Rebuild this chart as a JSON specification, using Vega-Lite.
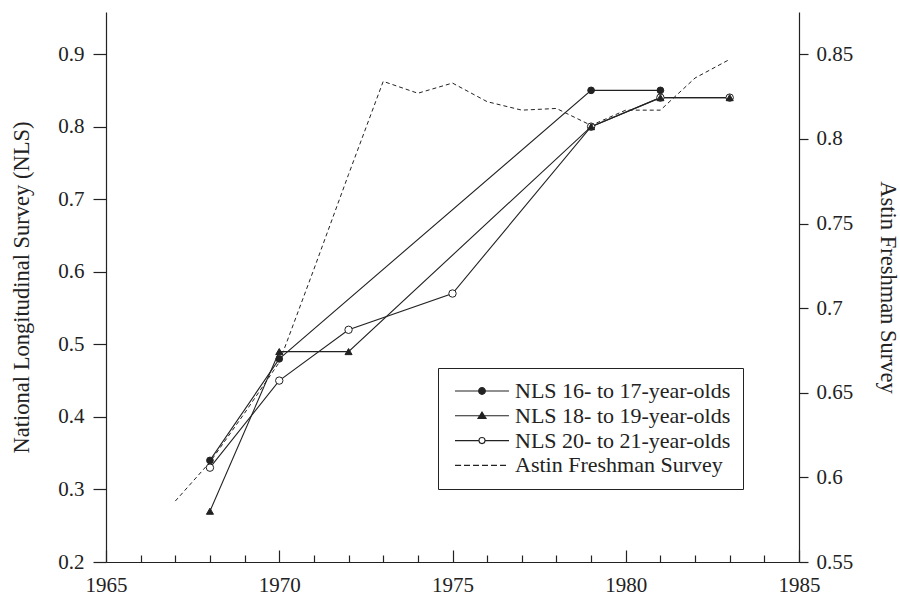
{
  "$schema": "https://vega.github.io/schema/vega-lite/v6.json",
  "width": 693,
  "height": 550,
  "autosize": {"type": "none"},
  "padding": {"left": 106, "top": 12, "right": 101, "bottom": 33},
  "background": "white",
  "config": {
    "view": {"stroke": null},
    "font": "Liberation Serif",
    "axis": {
      "grid": false,
      "domainColor": "#222",
      "tickColor": "#222",
      "labelColor": "#222",
      "titleColor": "#222",
      "labelFont": "Liberation Serif",
      "titleFont": "Liberation Serif",
      "labelFontSize": 21,
      "titleFontSize": 22.5,
      "titleFontWeight": "normal",
      "domainWidth": 1.2,
      "tickWidth": 1.2,
      "format": "~g"
    }
  },
  "datasets": {
    "nls": [
      {"series": "NLS 20- to 21-year-olds", "year": 1968, "value": 0.33},
      {"series": "NLS 20- to 21-year-olds", "year": 1970, "value": 0.45},
      {"series": "NLS 20- to 21-year-olds", "year": 1972, "value": 0.52},
      {"series": "NLS 20- to 21-year-olds", "year": 1975, "value": 0.57},
      {"series": "NLS 20- to 21-year-olds", "year": 1979, "value": 0.80},
      {"series": "NLS 20- to 21-year-olds", "year": 1981, "value": 0.84},
      {"series": "NLS 20- to 21-year-olds", "year": 1983, "value": 0.84},
      {"series": "NLS 16- to 17-year-olds", "year": 1968, "value": 0.34},
      {"series": "NLS 16- to 17-year-olds", "year": 1970, "value": 0.48},
      {"series": "NLS 16- to 17-year-olds", "year": 1979, "value": 0.85},
      {"series": "NLS 16- to 17-year-olds", "year": 1981, "value": 0.85},
      {"series": "NLS 18- to 19-year-olds", "year": 1968, "value": 0.27},
      {"series": "NLS 18- to 19-year-olds", "year": 1970, "value": 0.49},
      {"series": "NLS 18- to 19-year-olds", "year": 1972, "value": 0.49},
      {"series": "NLS 18- to 19-year-olds", "year": 1979, "value": 0.80},
      {"series": "NLS 18- to 19-year-olds", "year": 1981, "value": 0.84},
      {"series": "NLS 18- to 19-year-olds", "year": 1983, "value": 0.84}
    ],
    "astin": [
      {"year": 1967, "value": 0.586},
      {"year": 1968, "value": 0.609},
      {"year": 1969, "value": 0.638},
      {"year": 1970, "value": 0.668},
      {"year": 1971, "value": 0.723},
      {"year": 1972, "value": 0.779},
      {"year": 1973, "value": 0.834},
      {"year": 1974, "value": 0.827},
      {"year": 1975, "value": 0.833},
      {"year": 1976, "value": 0.822},
      {"year": 1977, "value": 0.817},
      {"year": 1978, "value": 0.818},
      {"year": 1979, "value": 0.808},
      {"year": 1980, "value": 0.817},
      {"year": 1981, "value": 0.817},
      {"year": 1982, "value": 0.836},
      {"year": 1983, "value": 0.847}
    ]
  },
  "layer": [
    {
      "data": {"name": "nls"},
      "layer": [
        {
          "mark": {"type": "line", "color": "#222", "strokeWidth": 1.1},
          "encoding": {
            "x": {
              "field": "year", "type": "quantitative",
              "scale": {"domain": [1965, 1985], "nice": false, "zero": false},
              "axis": {"orient": "bottom", "values": [1965, 1970, 1975, 1980, 1985], "format": "d", "tickSize": -12, "labelPadding": 41, "labelBaseline": "alphabetic", "title": null, "labelFlush": false}
            },
            "y": {
              "field": "value", "type": "quantitative",
              "scale": {"domain": [0.2, 0.958], "nice": false, "zero": false},
              "axis": {"orient": "left", "values": [0.2, 0.3, 0.4, 0.5, 0.6, 0.7, 0.8, 0.9], "format": "~g", "tickSize": 13, "labelPadding": 9, "title": "National Longitudinal Survey (NLS)", "titlePadding": 24}
            },
            "detail": {"field": "series"}
          }
        },
        {
          "mark": {"type": "point", "filled": true, "opacity": 1, "stroke": "#222", "strokeWidth": 1},
          "encoding": {
            "x": {"field": "year", "type": "quantitative"},
            "y": {"field": "value", "type": "quantitative"},
            "shape": {"field": "series", "scale": {"domain": ["NLS 16- to 17-year-olds", "NLS 18- to 19-year-olds", "NLS 20- to 21-year-olds"], "range": ["circle", "triangle-up", "circle"]}, "legend": null},
            "fill": {"field": "series", "scale": {"domain": ["NLS 16- to 17-year-olds", "NLS 18- to 19-year-olds", "NLS 20- to 21-year-olds"], "range": ["#222", "#222", "white"]}, "legend": null},
            "size": {"field": "series", "scale": {"domain": ["NLS 16- to 17-year-olds", "NLS 18- to 19-year-olds", "NLS 20- to 21-year-olds"], "range": [45, 55, 30]}, "legend": null}
          }
        },
        {
          "mark": {"type": "point", "filled": true, "opacity": 0},
          "encoding": {
            "x": {"field": "year", "type": "quantitative"},
            "y": {"field": "value", "type": "quantitative"},
            "shape": {
              "field": "series",
              "scale": {
                "domain": ["NLS 16- to 17-year-olds", "NLS 18- to 19-year-olds", "NLS 20- to 21-year-olds", "Astin Freshman Survey"],
                "range": [
                  "M-4,0H-0.5M0.5,0H4M-0.5,0A0.5,0.5,0,1,0,0.5,0A0.5,0.5,0,1,0,-0.5,0Z",
                  "M-4,0H4M0,-0.55L0.6,0.4L-0.6,0.4Z",
                  "M-4,0H-0.45M0.45,0H4M-0.45,0A0.45,0.45,0,1,0,0.45,0A0.45,0.45,0,1,0,-0.45,0Z",
                  "M-4,0H-3.1M-2.67,0H-1.78M-1.33,0H-0.44M0,0H0.89M1.33,0H2.22M2.67,0H3.56"
                ]
              },
              "legend": {
                "orient": "none", "legendX": 332, "legendY": 356, "title": null,
                "strokeColor": "#222", "fillColor": "white", "padding": 12,
                "symbolSize": 182, "symbolStrokeWidth": 1.1, "symbolOpacity": 1, "symbolStrokeColor": "#222",
                "labelFont": "Liberation Serif", "labelFontSize": 22, "labelColor": "#222", "labelLimit": 400,
                "rowPadding": 2.8, "symbolOffset": 21, "labelOffset": 22
              }
            },
            "fill": {
              "field": "series",
              "scale": {"domain": ["NLS 16- to 17-year-olds", "NLS 18- to 19-year-olds", "NLS 20- to 21-year-olds", "Astin Freshman Survey"], "range": ["#222", "#222", "white", "transparent"]},
              "legend": {
                "orient": "none", "legendX": 332, "legendY": 356, "title": null,
                "strokeColor": "#222", "fillColor": "white", "padding": 12,
                "symbolSize": 182, "symbolStrokeWidth": 1.1, "symbolOpacity": 1, "symbolStrokeColor": "#222",
                "labelFont": "Liberation Serif", "labelFontSize": 22, "labelColor": "#222", "labelLimit": 400,
                "rowPadding": 2.8, "symbolOffset": 21, "labelOffset": 22
              }
            },
            "stroke": {
              "field": "series",
              "scale": {"domain": ["NLS 16- to 17-year-olds", "NLS 18- to 19-year-olds", "NLS 20- to 21-year-olds", "Astin Freshman Survey"], "range": ["#222", "#222", "#222", "#222"]},
              "legend": {
                "orient": "none", "legendX": 332, "legendY": 356, "title": null,
                "strokeColor": "#222", "fillColor": "white", "padding": 12,
                "symbolSize": 182, "symbolStrokeWidth": 1.1, "symbolOpacity": 1, "symbolStrokeColor": "#222",
                "labelFont": "Liberation Serif", "labelFontSize": 22, "labelColor": "#222", "labelLimit": 400,
                "rowPadding": 2.8, "symbolOffset": 21, "labelOffset": 22
              }
            }
          }
        }
      ],
      "resolve": {"scale": {"shape": "independent", "fill": "independent", "size": "independent", "stroke": "independent"}}
    },
    {
      "data": {"name": "astin"},
      "mark": {"type": "line", "color": "#222", "strokeWidth": 1, "strokeDash": [4, 3]},
      "encoding": {
        "x": {
          "field": "year", "type": "quantitative",
          "axis": {"orient": "bottom", "values": [1966, 1967, 1968, 1969, 1971, 1972, 1973, 1974, 1976, 1977, 1978, 1979, 1981, 1982, 1983, 1984], "tickSize": -7, "labels": false, "domain": false, "title": null}
        },
        "y": {
          "field": "value", "type": "quantitative",
          "scale": {"domain": [0.55, 0.875], "nice": false, "zero": false},
          "axis": {"orient": "right", "values": [0.55, 0.6, 0.65, 0.7, 0.75, 0.8, 0.85], "format": "~g", "tickSize": 9, "labelPadding": 8, "title": "Astin Freshman Survey", "titlePadding": 23}
        }
      }
    }
  ],
  "resolve": {"scale": {"y": "independent"}, "axis": {"x": "independent", "y": "independent"}}
}
